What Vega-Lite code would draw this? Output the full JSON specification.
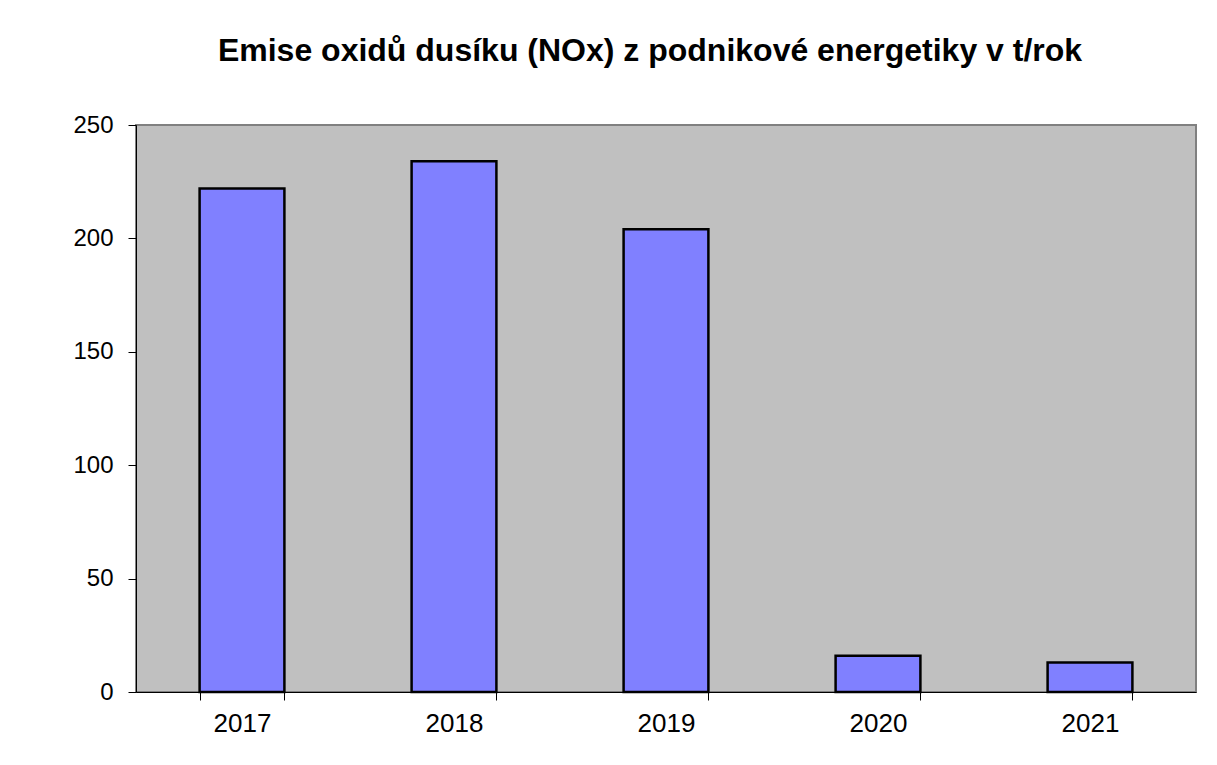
{
  "$schema": "https://vega.github.io/schema/vega-lite/v6.json",
  "autosize": {"type": "none"},
  "width": 1060,
  "height": 567,
  "padding": {"left": 136, "top": 125, "right": 21, "bottom": 73},
  "background": "white",
  "title": {
    "text": "Emise oxidů dusíku (NOx) z podnikové energetiky v t/rok",
    "font": "Liberation Sans",
    "fontSize": 32,
    "fontWeight": "bold",
    "color": "black",
    "anchor": "middle",
    "dx": -16,
    "offset": 45
  },
  "data": {
    "values": [
      {"rok": "2017", "emise": 222},
      {"rok": "2018", "emise": 234},
      {"rok": "2019", "emise": 204},
      {"rok": "2020", "emise": 16},
      {"rok": "2021", "emise": 13}
    ]
  },
  "mark": {"type": "bar", "color": "#8080FF", "stroke": "black", "strokeWidth": 2.5},
  "encoding": {
    "x": {
      "field": "rok",
      "type": "ordinal",
      "scale": {"paddingInner": 0.6, "paddingOuter": 0.3},
      "axis": {
        "title": null,
        "labelAngle": 0,
        "labelFont": "Liberation Sans",
        "labelFontSize": 26,
        "labelColor": "black",
        "labelPadding": 10,
        "tickBand": "extent",
        "tickSize": 8,
        "tickColor": "black",
        "domainColor": "black",
        "domainWidth": 1
      }
    },
    "y": {
      "field": "emise",
      "type": "quantitative",
      "scale": {"domain": [0, 250], "nice": false},
      "axis": {
        "title": null,
        "values": [0, 50, 100, 150, 200, 250],
        "grid": false,
        "labelFont": "Liberation Sans",
        "labelFontSize": 24,
        "labelColor": "black",
        "labelPadding": 15,
        "tickSize": 8,
        "tickColor": "black",
        "domainColor": "black",
        "domainWidth": 1
      }
    }
  },
  "config": {
    "view": {"fill": "#C0C0C0", "stroke": "#808080", "strokeWidth": 2}
  }
}
